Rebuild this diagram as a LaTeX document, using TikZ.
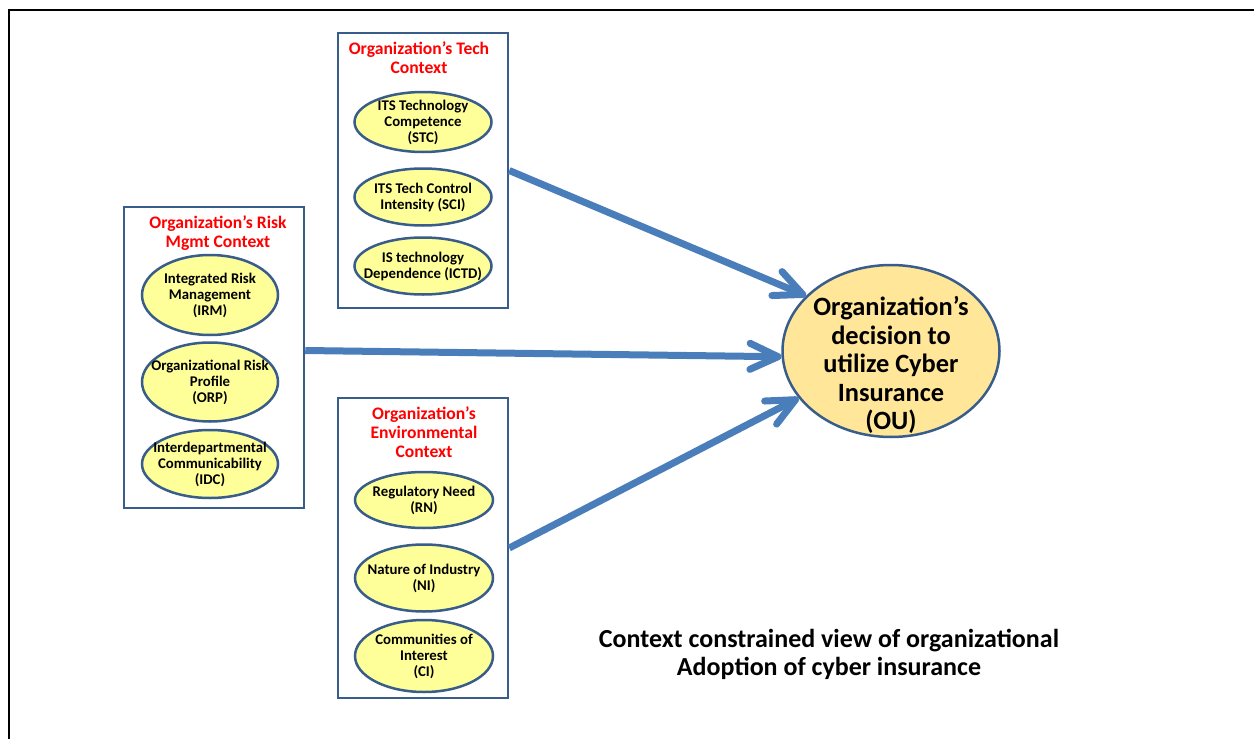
\documentclass[tikz,border=0pt]{standalone}
\usepackage{fontspec}
\setmainfont{Carlito}
\usetikzlibrary{shapes.geometric,arrows.meta}
\definecolor{boxblue}{RGB}{56,93,138}
\definecolor{flowblue}{RGB}{74,126,187}
\definecolor{ovalyellow}{RGB}{255,255,153}
\definecolor{ougold}{RGB}{255,230,153}
\definecolor{titlered}{RGB}{255,0,0}
\tikzset{
  ctxbox/.style={draw=boxblue,line width=1.25pt,fill=white,inner sep=0pt},
  ctxtitle/.style={text=titlered,font=\bfseries\fontsize{8.8}{9.5}\selectfont,align=center},
  oval/.style={ellipse,draw=boxblue,line width=1.25pt,fill=ovalyellow,inner sep=0pt},
  ovaltext/.style={font=\bfseries\fontsize{7.4}{8}\selectfont,align=center},
  outext/.style={font=\bfseries\fontsize{13.2}{14.25}\selectfont,align=center,yshift=-7pt},
  flow/.style={draw=flowblue,line width=3.5pt,-{Straight Barb[length=14pt,width=13pt,round]}},
}
\begin{document}
\begin{tikzpicture}[x=0.5pt,y=-0.5pt]
\useasboundingbox (0,0) rectangle (1254,739);
\draw[line width=1pt] (9,739) -- (9,10) -- (1254,10);
%
% tech context
\node[ctxbox,minimum width=85pt,minimum height=137.5pt] (tech) at (423,170.5) {};
\node[ctxtitle] (techtitle) at (419,57.5) {Organization’s Tech\\Context};
\node[oval,minimum width=68.5pt,minimum height=30pt,label={[ovaltext]center:{ITS Technology\\Competence\\(STC)}}] (stc) at (423,122) {};
\node[oval,minimum width=68.5pt,minimum height=28.5pt,label={[ovaltext]center:{ITS Tech Control\\Intensity (SCI)}}] (sci) at (423,197) {};
\node[oval,minimum width=68.5pt,minimum height=28.5pt,label={[ovaltext]center:{IS technology\\Dependence (ICTD)}}] (ictd) at (423,266) {};
%
% risk mgmt context
\node[ctxbox,minimum width=90pt,minimum height=150.5pt] (risk) at (214,357.5) {};
\node[ctxtitle] (risktitle) at (218,233) {Organization’s Risk\\Mgmt Context};
\node[oval,minimum width=68pt,minimum height=40pt,label={[ovaltext]center:{Integrated Risk\\Management\\(IRM)}}] (irm) at (210,295) {};
\node[oval,minimum width=68pt,minimum height=39.5pt,label={[ovaltext]center:{Organizational Risk\\Profile\\(ORP)}}] (orp) at (210,382) {};
\node[oval,minimum width=68pt,minimum height=34pt,label={[ovaltext]center:{Interdepartmental\\Communicability\\(IDC)}}] (idc) at (210,464) {};
%
% environmental context
\node[ctxbox,minimum width=85pt,minimum height=150pt] (env) at (423,548) {};
\node[ctxtitle] (envtitle) at (424,432) {Organization’s\\Environmental\\Context};
\node[oval,minimum width=69pt,minimum height=28pt,label={[ovaltext]center:{Regulatory Need\\(RN)}}] (rn) at (424,500) {};
\node[oval,minimum width=69pt,minimum height=33.5pt,label={[ovaltext]center:{Nature of Industry\\(NI)}}] (ni) at (424,578) {};
\node[oval,minimum width=69pt,minimum height=36pt,label={[ovaltext]center:{Communities of\\Interest\\(CI)}}] (ci) at (424,656) {};
%
% decision
\node[ellipse,draw=boxblue,line width=1.25pt,fill=ougold,inner sep=0pt,minimum width=108.5pt,minimum height=86pt,
  label={[outext]center:{Organization’s\\decision to\\utilize Cyber\\Insurance\\(OU)}}] (ou) at (891,351) {};
%
\draw[flow] (tech.east) -- (ou.147.8);
\draw[flow] ([yshift=3.5pt]risk.east) -- (ou.183.7);
\draw[flow] (env.east) -- (ou.207.8);
%
\node[font=\bfseries\fontsize{13}{14}\selectfont,align=center] (caption) at (829,654) {Context constrained view of organizational\\Adoption of cyber insurance};
\end{tikzpicture}
\end{document}
